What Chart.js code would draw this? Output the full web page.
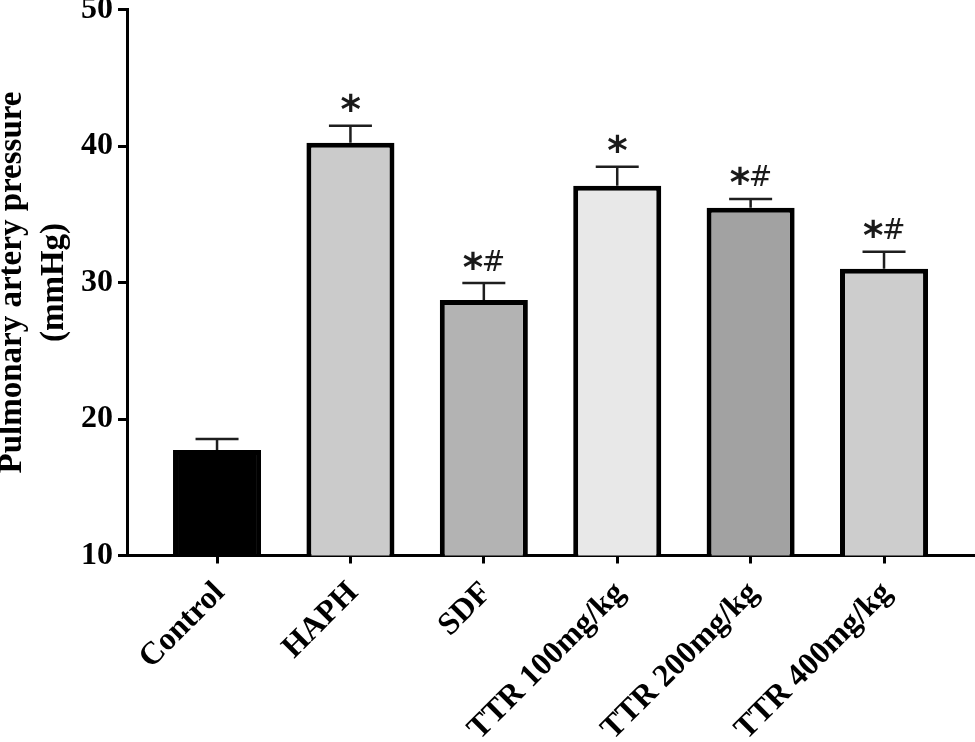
<!DOCTYPE html>
<html>
<head>
<meta charset="utf-8">
<script src="https://cdn.jsdelivr.net/npm/chart.js@4.4.1/dist/chart.umd.min.js"></script>
<style>
html,body{margin:0;padding:0;background:#fff;}
canvas{display:block;}
</style>
</head>
<body>
<canvas id="c" width="975" height="742"></canvas>
<script>
// ---- data ----
const categories = ['Control', 'HAPH', 'SDF', 'TTR 100mg/kg', 'TTR 200mg/kg', 'TTR 400mg/kg'];
const means  = [17.73, 40.24, 28.72, 37.08, 35.48, 31.01];
const errors = [0.80, 1.25, 1.24, 1.40, 0.64, 1.25];
const marks  = ['', '*', '*#', '*', '*#', '*#'];
const fills  = ['#000000', '#cbcbcb', '#b3b3b3', '#e8e8e8', '#a2a2a2', '#cdcdcd'];
const yTicks = [10, 20, 30, 40, 50];
const yTitle = ['Pulmonary artery pressure', '(mmHg)'];

const SERIF = "'Liberation Serif', 'Times New Roman', serif";

const errPlugin = {
  id: 'errbars',
  afterDatasetsDraw(chart) {
    const ctx = chart.ctx;
    const x = chart.scales.x, y = chart.scales.y;
    ctx.save();
    ctx.strokeStyle = '#1e1e1e';
    ctx.lineWidth = 2.5;
    means.forEach((m, i) => {
      const cx = x.getPixelForValue(i);
      const y0 = y.getPixelForValue(m);
      const y1 = y.getPixelForValue(m + errors[i]);
      ctx.beginPath();
      ctx.moveTo(cx, y0);
      ctx.lineTo(cx, y1);
      ctx.moveTo(cx - 21.5, y1);
      ctx.lineTo(cx + 21.5, y1);
      ctx.stroke();
    });
    function drawCentered(ch, font, cx, cy) {
      ctx.font = font;
      ctx.textAlign = 'left';
      ctx.textBaseline = 'alphabetic';
      const mt = ctx.measureText(ch);
      const dx = (mt.actualBoundingBoxRight - mt.actualBoundingBoxLeft) / 2;
      const dy = (mt.actualBoundingBoxDescent - mt.actualBoundingBoxAscent) / 2;
      ctx.fillText(ch, cx - dx, cy - dy);
    }
    ctx.fillStyle = '#1a1a1a';
    const starFont = "bold 39px 'DejaVu Sans'";
    const hashFont = "28px 'DejaVu Sans'";
    marks.forEach((mk, i) => {
      if (!mk) return;
      const cx = x.getPixelForValue(i);
      const cy = y.getPixelForValue(means[i] + errors[i]) - 23;
      if (mk === '*') {
        drawCentered('*', starFont, cx, cy);
      } else {
        drawCentered('*', starFont, cx - 11, cy);
        drawCentered('#', hashFont, cx + 10, cy);
      }
    });
    ctx.restore();
  }
};

new Chart(document.getElementById('c'), {
  type: 'bar',
  data: {
    datasets: [{
      data: categories.map((c, i) => ({ x: i, y: means[i] })),
      backgroundColor: fills,
      borderColor: '#000',
      borderWidth: 5,
      borderSkipped: 'start',
      categoryPercentage: 1,
      barPercentage: 0.66
    }]
  },
  options: {
    responsive: false,
    animation: false,
    devicePixelRatio: 1,
    layout: { padding: { top: 9.5, left: 0, right: 0, bottom: 0 } },
    plugins: { legend: { display: false }, tooltip: { enabled: false } },
    scales: {
      x: {
        type: 'linear',
        min: -0.675,
        max: 5.682,
        offset: false,
        grid: { display: true, drawOnChartArea: false, drawTicks: true, tickLength: 8, tickWidth: 3, tickColor: '#000', offset: false },
        border: { display: true, color: '#000', width: 3 },
        afterBuildTicks: s => { s.ticks = categories.map((_, i) => ({ value: i })); },
        afterFit: s => { s.height = 186.5; s.paddingLeft = 0; s.paddingRight = 0; },
        ticks: {
          autoSkip: false, minRotation: 45, maxRotation: 45,
          labelOffset: 3, padding: 11, color: '#000',
          font: { family: SERIF, size: 32, weight: 'bold' },
          callback: v => (categories[v] !== undefined ? categories[v] : '')
        }
      },
      y: {
        min: yTicks[0],
        max: yTicks[yTicks.length - 1],
        afterBuildTicks: s => { s.ticks = yTicks.map(v => ({ value: v })); },
        grid: { display: true, drawOnChartArea: false, drawTicks: true, tickLength: 9, tickWidth: 3, tickColor: '#000' },
        border: { display: true, color: '#000', width: 3 },
        ticks: { padding: 5, color: '#000', font: { family: SERIF, size: 32, weight: 'bold' } },
        title: {
          display: true, text: yTitle, color: '#000',
          font: { family: SERIF, size: 33, weight: 'bold', lineHeight: 1.27 },
          padding: { top: -8, bottom: 0 }
        },
        afterFit: s => { s.width = 127; s.paddingTop = 0; s.paddingBottom = 0; }
      }
    }
  },
  plugins: [errPlugin]
});
</script>
</body>
</html>
